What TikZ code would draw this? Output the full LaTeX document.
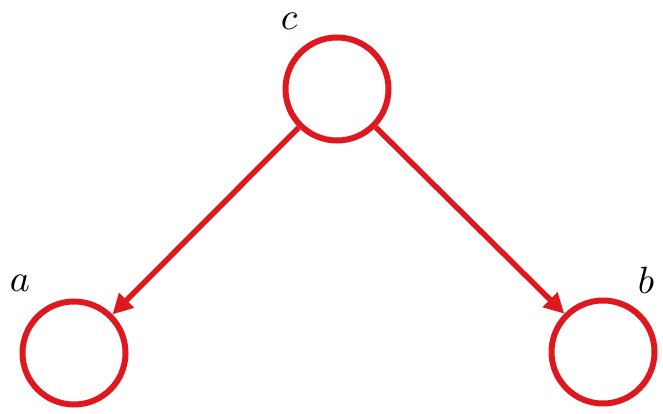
\documentclass[tikz,border=0pt]{standalone}
\usetikzlibrary{arrows.meta}
\definecolor{myred}{RGB}{222,24,30}
\begin{document}
\begin{tikzpicture}[x=1pt,y=1pt,
  vnode/.style={circle,draw=myred,line width=6pt,minimum size=103pt,inner sep=0pt},
  vlabel/.style={scale=3.8,inner sep=0pt},
  edge/.style={draw=myred,line width=5.5pt,-{Triangle[length=20pt,width=20pt]}}]
\useasboundingbox (0,0) rectangle (663,413);
\node[vnode] (c) at (337,324) {};
\node[vnode] (a) at (74,60) {};
\node[vnode] (b) at (603,61) {};
\node[vlabel] (lc) at (289,392) {$c$};
\node[vlabel] (la) at (20,130) {$a$};
\node[vlabel] (lb) at (646,133) {$b$};
\draw[edge] (c) -- (a);
\draw[edge] (c) -- (b);
\end{tikzpicture}
\end{document}
